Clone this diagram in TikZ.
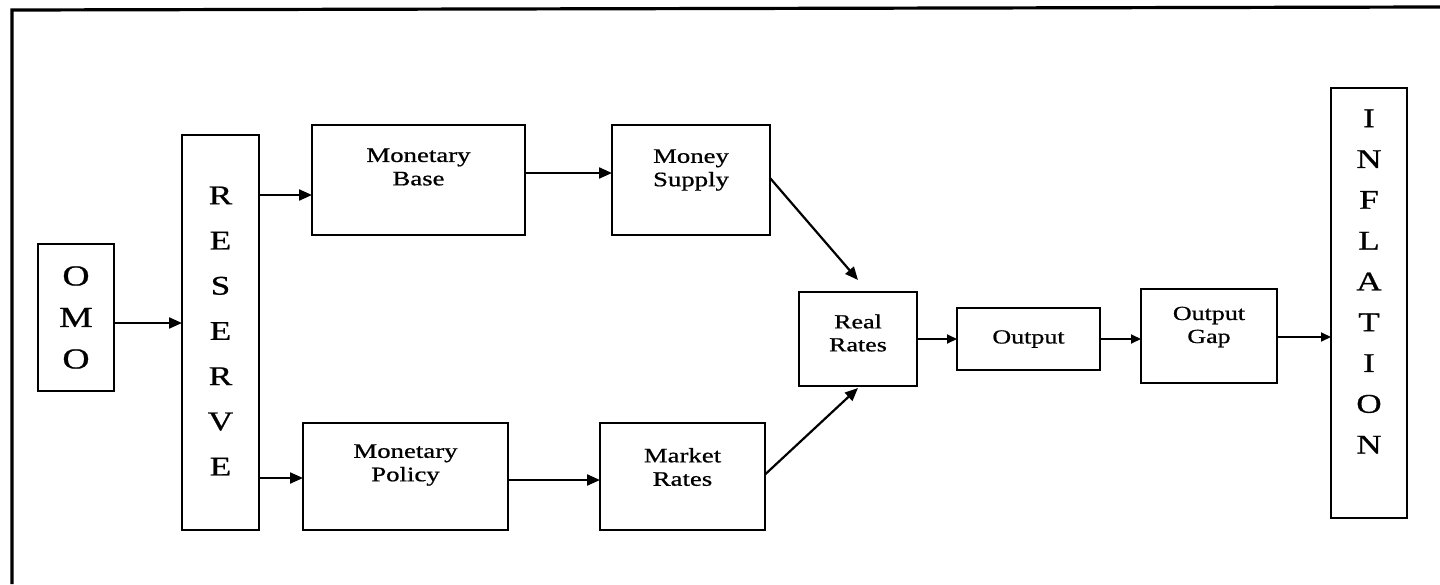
\documentclass[tikz,border=0pt]{standalone}
\usepackage{fontspec}
\setmainfont{Liberation Serif}
\newfontfamily\wfont[FakeStretch=1.3,FakeBold=0.8]{Liberation Serif}
\usetikzlibrary{arrows.meta}
\tikzset{
  box/.style={draw, line width=1.3pt, rectangle, inner sep=0pt, outer sep=0pt},
  lbl/.style={align=center, inner sep=0pt, font=\wfont\fontsize{10.3}{11.7}\selectfont},
  vlbl/.style={align=center, inner sep=0pt},
  arr/.style={line width=1.1pt, -{Triangle[length=6.5pt,width=5.5pt]}},
  arrs/.style={line width=0.9pt, -{Triangle[length=5pt,width=4.5pt]}},
  frame/.style={line width=1.6pt, line join=miter}
}
\begin{document}
\begin{tikzpicture}[x=0.5pt,y=-0.5pt]
\useasboundingbox (0,0) rectangle (1440,584);
\draw[frame] (12,584) -- (12,10) -- (1440,7);
% boxes
\node[box, minimum width=38pt, minimum height=73.5pt] (omo) at (76,317.5) {};
\node[box, minimum width=38.5pt, minimum height=197.5pt] (res) at (220.5,332.5) {};
\node[box, minimum width=106.5pt, minimum height=55pt] (mb) at (418.5,180) {};
\node[box, minimum width=79pt, minimum height=55pt] (ms) at (691,180) {};
\node[box, minimum width=102.5pt, minimum height=53.5pt] (mp) at (405.5,476.5) {};
\node[box, minimum width=82.5pt, minimum height=53.5pt] (mr) at (682.5,476.5) {};
\node[box, minimum width=59pt, minimum height=47pt] (rr) at (858,339) {};
\node[box, minimum width=71.5pt, minimum height=31pt] (out) at (1028.5,339) {};
\node[box, minimum width=68pt, minimum height=47pt] (gap) at (1209,336) {};
\node[box, minimum width=38pt, minimum height=215pt] (inf) at (1369,303) {};
% texts
\node[vlbl, font=\wfont\fontsize{14.5}{20.75}\selectfont] (tomo) at (omo.center) {O\\M\\O};
\node[vlbl, font=\wfont\fontsize{13.5}{22.6}\selectfont] (tres) at ([yshift=0.75pt]res.center) {R\\E\\S\\E\\R\\V\\E};
\node[vlbl, font=\wfont\fontsize{13.5}{20.4}\selectfont] (tinf) at ([yshift=10.75pt]inf.center) {I\\N\\F\\L\\A\\T\\I\\O\\N};
\node[lbl] (tmb) at ([yshift=6.5pt]mb.center) {Monetary\\Base};
\node[lbl] (tms) at ([yshift=5pt]ms.center) {Money\\Supply};
\node[lbl] (tmp) at ([yshift=5.75pt]mp.center) {Monetary\\Policy};
\node[lbl] (tmr) at ([yshift=4.75pt]mr.center) {Market\\Rates};
\node[lbl, font=\wfont\fontsize{10}{11.5}\selectfont] (trr) at ([yshift=3pt]rr.center) {Real\\Rates};
\node[lbl, font=\wfont\fontsize{10}{11.5}\selectfont] (tout) at (out.center) {Output};
\node[lbl, font=\wfont\fontsize{10}{11.5}\selectfont] (tgap) at ([yshift=4.5pt]gap.center) {Output\\Gap};
% connectors
\coordinate (omoout) at ([yshift=-2.75pt]omo.east);
\draw[arr] (omoout) -- (res.west |- omoout);
\coordinate (mbin) at ([yshift=-7.5pt]mb.west);
\draw[arr] (res.east |- mbin) -- (mbin);
\coordinate (mpin) at ([yshift=-0.75pt]mp.west);
\draw[arr] (res.east |- mpin) -- (mpin);
\coordinate (mbout) at ([yshift=3.5pt]mb.east);
\draw[arr] (mbout) -- (ms.west |- mbout);
\coordinate (mpout) at ([yshift=-1.75pt]mp.east);
\draw[arr] (mpout) -- (mr.west |- mpout);
\draw[arr] ([yshift=1pt]ms.east) -- ([yshift=6pt]rr.north);
\draw[arr] ([yshift=1pt]mr.east) -- ([yshift=-1pt]rr.south);
\draw[arrs] (rr.east) -- (out.west);
\draw[arrs] (out.east) -- (gap.west |- out.east);
\coordinate (gapout) at ([yshift=-0.5pt]gap.east);
\draw[arrs] (gapout) -- (inf.west |- gapout);
\end{tikzpicture}
\end{document}
